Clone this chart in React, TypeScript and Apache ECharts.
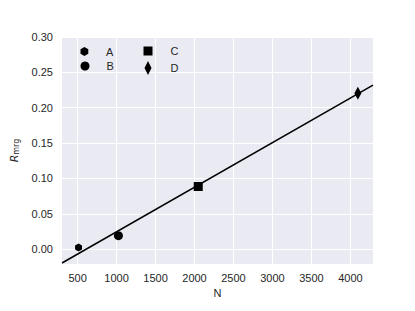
import React, { useEffect, useRef } from "react";
import * as echarts from "echarts";

const seriesNames = ["A", "B", "C", "D"];
const nValues = [512, 1024, 2048, 4096];
const rValues = [0.0024, 0.019, 0.0886, 0.2205];
const fitX = [300, 4290];
const fitY = [-0.0196, 0.232];
const xTicks = [500, 1000, 1500, 2000, 2500, 3000, 3500, 4000];
const yTicks = [0, 0.05, 0.1, 0.15, 0.2, 0.25, 0.3];

const HEX = "path://M0,-1 L0.866,-0.5 L0.866,0.5 L0,1 L-0.866,0.5 L-0.866,-0.5 Z";
const symbols = [HEX, "circle", "rect", "diamond"];
const sizes: any[] = [8, 9, 9, [7, 13]];
const FONT = "Liberation Sans, Arial, sans-serif";
const TXT = "#262626";

export default function App() {
  const ref = useRef<HTMLDivElement>(null);
  useEffect(() => {
    const chart = echarts.init(ref.current!, null, { renderer: "svg" });
    const legendPos = [
      { left: 80.5, top: 46, w: 9, h: 9, pad: 12 },
      { left: 80.5, top: 60.5, w: 9, h: 9, pad: 12 },
      { left: 143.5, top: 45.5, w: 9, h: 9, pad: 13 },
      { left: 144.5, top: 61, w: 7, h: 14, pad: 14 },
    ];
    chart.setOption({
      animation: false,
      backgroundColor: "#ffffff",
      textStyle: { fontFamily: FONT },
      grid: {
        left: 62,
        right: 42,
        top: 37,
        bottom: 47,
        show: true,
        backgroundColor: "#EAEAF2",
        borderWidth: 0,
      },
      legend: seriesNames.map((n, i) => ({
        data: [n],
        left: legendPos[i].left,
        top: legendPos[i].top,
        padding: 0,
        itemWidth: legendPos[i].w,
        itemHeight: legendPos[i].h,
        selectedMode: false,
        itemStyle: { opacity: 1 },
        textStyle: {
          color: TXT,
          fontSize: 11,
          fontFamily: FONT,
          padding: [0, 0, 0, legendPos[i].pad],
        },
      })),
      xAxis: {
        type: "value",
        min: fitX[0],
        max: fitX[1],
        name: "N",
        nameLocation: "middle",
        nameGap: 21,
        nameTextStyle: { color: TXT, fontSize: 11, fontFamily: FONT },
        axisLine: { show: false },
        axisTick: { show: false, customValues: xTicks },
        axisLabel: {
          customValues: xTicks,
          color: TXT,
          fontSize: 11,
          fontFamily: FONT,
          margin: 8,
          formatter: (v: number) => String(v),
        },
        splitLine: { show: true, lineStyle: { color: "#ffffff", width: 1 } },
      },
      yAxis: {
        type: "value",
        min: -0.021,
        max: 0.3,
        name: "{i|R}{s|mrg}",
        nameLocation: "middle",
        nameGap: 33,
        nameTextStyle: {
          color: TXT,
          rich: {
            i: { fontSize: 11, fontStyle: "italic", fontFamily: "DejaVu Sans", color: TXT },
            s: { fontSize: 8, fontFamily: "DejaVu Sans", color: TXT, padding: [5, 0, 0, 0] },
          },
        },
        axisLine: { show: false },
        axisTick: { show: false, customValues: yTicks },
        axisLabel: {
          customValues: yTicks,
          color: TXT,
          fontSize: 11,
          fontFamily: FONT,
          margin: 9,
          formatter: (v: number) => v.toFixed(2),
        },
        splitLine: { show: true, lineStyle: { color: "#ffffff", width: 1 } },
      },
      series: [
        {
          type: "line",
          name: "fit",
          data: fitX.map((x, i) => [x, fitY[i]]),
          showSymbol: false,
          symbol: "none",
          lineStyle: { color: "#000000", width: 1.5 },
          z: 2,
        },
        ...seriesNames.map((n, i) => ({
          type: "scatter",
          name: n,
          data: [[nValues[i], rValues[i]]],
          symbol: symbols[i],
          symbolSize: sizes[i],
          symbolKeepAspect: true,
          itemStyle: { color: "#000000", opacity: 1 },
          z: 3,
        })),
      ],
    });
    return () => chart.dispose();
  }, []);
  return (
    <div
      ref={ref}
      style={{ position: "fixed", left: 0, top: 0, width: 415, height: 311 }}
    />
  );
}
